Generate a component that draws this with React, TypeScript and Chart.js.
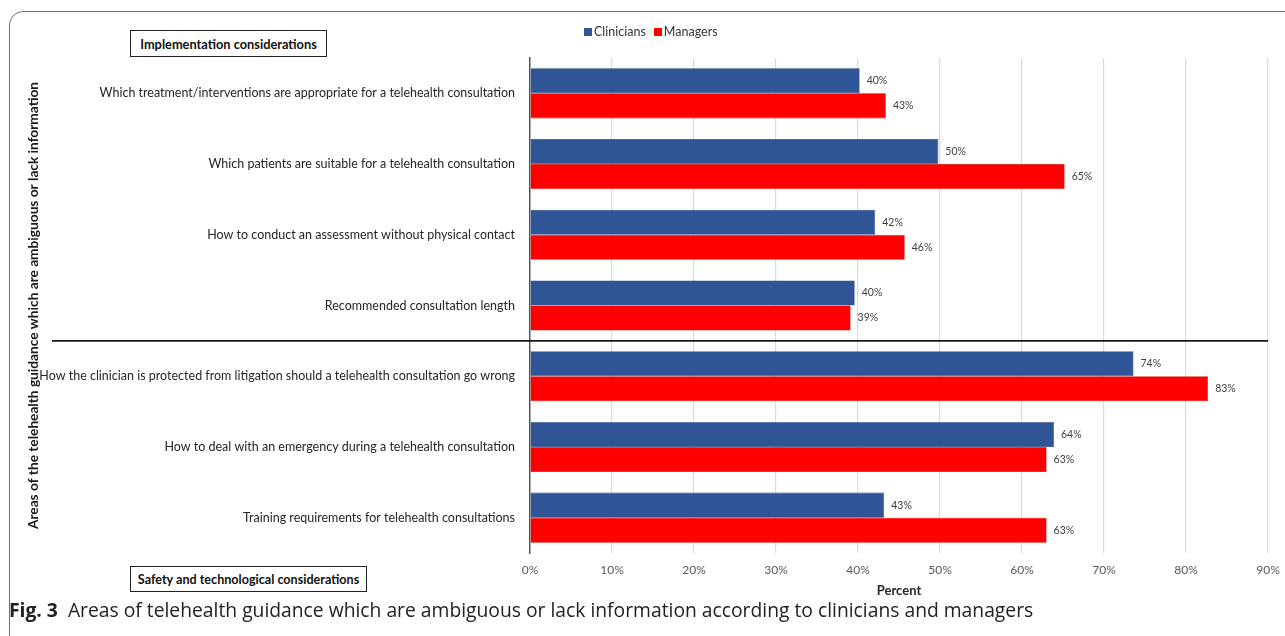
import React, { useEffect, useRef } from "react";
import { Chart, registerables } from "chart.js";

Chart.register(...registerables);

const categories = [
  "Which treatment/interventions are appropriate for a telehealth consultation",
  "Which patients are suitable for a telehealth consultation",
  "How to conduct an assessment without physical contact",
  "Recommended consultation length",
  "How the clinician is protected from litigation should a telehealth consultation go wrong",
  "How to deal with an emergency during a telehealth consultation",
  "Training requirements for telehealth consultations",
];
const clinicians = [40.2, 49.8, 42.1, 39.6, 73.6, 63.9, 43.2];
const managers = [43.4, 65.2, 45.7, 39.1, 82.7, 63.0, 63.0];
const clinicianLabels = ["40%", "50%", "42%", "40%", "74%", "64%", "43%"];
const managerLabels = ["43%", "65%", "46%", "39%", "83%", "63%", "63%"];
const seriesNames = ["Clinicians", "Managers"];
const seriesColors = ["#2F5597", "#FF0000"];
const xMin = 0;
const xMax = 90;
const xStep = 10;

const FONT = "Lato, 'Open Sans', sans-serif";

export default function App() {
  const canvasRef = useRef<HTMLCanvasElement | null>(null);

  useEffect(() => {
    const canvas = canvasRef.current;
    if (!canvas) return;
    const labelSets = [clinicianLabels, managerLabels];

    const valueLabels = {
      id: "valueLabels",
      afterDatasetsDraw(chart: any) {
        const ctx = chart.ctx;
        ctx.save();
        ctx.font = `10.5px ${FONT}`;
        ctx.fillStyle = "#404040";
        ctx.textAlign = "left";
        ctx.textBaseline = "middle";
        chart.data.datasets.forEach((_ds: any, di: number) => {
          const meta = chart.getDatasetMeta(di);
          meta.data.forEach((el: any, i: number) => {
            ctx.fillText(labelSets[di][i], el.x + 7, el.y);
          });
        });
        ctx.restore();
      },
    };

    const separator = {
      id: "separator",
      afterDraw(chart: any) {
        const ctx = chart.ctx;
        const y = chart.scales.y;
        const py = (y.getPixelForValue(3) + y.getPixelForValue(4)) / 2;
        ctx.save();
        ctx.strokeStyle = "#1a1a1a";
        ctx.lineWidth = 1.8;
        ctx.beginPath();
        ctx.moveTo(52, py);
        ctx.lineTo(chart.chartArea.right, py);
        ctx.stroke();
        ctx.restore();
      },
    };

    const chart = new Chart(canvas, {
      type: "bar",
      data: {
        labels: categories,
        datasets: [
          {
            label: seriesNames[0],
            data: clinicians,
            backgroundColor: seriesColors[0],
            borderColor: "#24457f",
            borderWidth: 0.6,
            categoryPercentage: 0.708,
            barPercentage: 1.0,
          },
          {
            label: seriesNames[1],
            data: managers,
            backgroundColor: seriesColors[1],
            borderColor: "#d40000",
            borderWidth: 0.6,
            categoryPercentage: 0.708,
            barPercentage: 1.0,
          },
        ],
      },
      options: {
        indexAxis: "y",
        responsive: false,
        animation: false,
        layout: { padding: { left: 0, right: 17, top: 58, bottom: 37 } },
        plugins: {
          legend: { display: false },
          tooltip: { enabled: false },
        },
        scales: {
          x: {
            type: "linear",
            min: xMin,
            max: xMax,
            afterFit: (s: any) => {
              s.height = 46;
              s.paddingRight = 0;
              s.paddingLeft = 0;
            },
            ticks: {
              stepSize: xStep,
              padding: 10,
              color: "#595959",
              font: { family: FONT, size: 12 },
              callback: (v: any) => `${v}%`,
            },
            grid: {
              drawTicks: false,
              color: (c: any) => (c.index === 0 ? "rgba(0,0,0,0)" : "#d9d9d9"),
              lineWidth: 1.2,
            },
            border: { display: false },
            title: {
              display: true,
              text: "Percent",
              color: "#262626",
              font: { family: FONT, size: 13, weight: "bold" },
              padding: { top: 0, bottom: 0 },
            },
          },
          y: {
            type: "category",
            afterFit: (s: any) => {
              s.width = 530;
            },
            ticks: {
              padding: 15,
              color: "#262626",
              font: { family: FONT, size: 12.5 },
              autoSkip: false,
            },
            grid: { display: false, drawTicks: false },
            border: { display: true, color: "#555555", width: 1.5 },
            title: {
              display: true,
              text: "Areas of the telehealth guidance which are ambiguous or lack information",
              color: "#1a1a1a",
              font: { family: FONT, size: 13.7, weight: "bold" },
              padding: { top: 25, bottom: 0 },
            },
          },
        },
      },
      plugins: [valueLabels, separator],
    });

    return () => {
      chart.destroy();
    };
  }, []);

  const boxStyle: React.CSSProperties = {
    position: "absolute",
    border: "1.5px solid #222",
    boxSizing: "border-box",
    display: "flex",
    alignItems: "center",
    justifyContent: "center",
    fontFamily: FONT,
    fontWeight: 700,
    fontSize: 12.8,
    color: "#111",
    background: "#fff",
    whiteSpace: "nowrap",
  };

  return (
    <div
      style={{
        position: "fixed",
        left: 0,
        top: 0,
        width: 1285,
        height: 636,
        overflow: "hidden",
        background: "#fff",
      }}
    >
      <div
        style={{
          position: "absolute",
          left: 9,
          top: 11,
          width: 1400,
          height: 700,
          border: "1.5px solid #707070",
          borderRadius: 14,
          boxSizing: "border-box",
        }}
      />
      <canvas
        ref={canvasRef}
        width={1285}
        height={636}
        style={{ position: "absolute", left: 0, top: 0, width: 1285, height: 636 }}
      />
      <div style={{ ...boxStyle, left: 130, top: 30, width: 197, height: 27 }}>
        Implementation considerations
      </div>
      <div style={{ ...boxStyle, left: 130, top: 566, width: 237, height: 26, fontSize: 12.6 }}>
        Safety and technological considerations
      </div>
      <div
        style={{
          position: "absolute",
          left: 584,
          top: 24,
          display: "flex",
          alignItems: "center",
          fontFamily: FONT,
          fontSize: 12.5,
          color: "#333",
          whiteSpace: "nowrap",
        }}
      >
        {seriesNames.map((n, i) => (
          <span key={n} style={{ display: "flex", alignItems: "center", marginRight: 8 }}>
            <span
              style={{
                display: "inline-block",
                width: 8,
                height: 8,
                background: seriesColors[i],
                marginRight: 2,
              }}
            />
            {n}
          </span>
        ))}
      </div>
      <div
        style={{
          position: "absolute",
          left: 9,
          top: 597,
          fontFamily: "'Open Sans', sans-serif",
          fontSize: 19.3,
          color: "#222",
          whiteSpace: "nowrap",
          lineHeight: "26px",
        }}
      >
        <span style={{ fontWeight: 700 }}>Fig. 3</span>
        <span style={{ marginLeft: 10 }}>
          Areas of telehealth guidance which are ambiguous or lack information according to clinicians and managers
        </span>
      </div>
    </div>
  );
}
